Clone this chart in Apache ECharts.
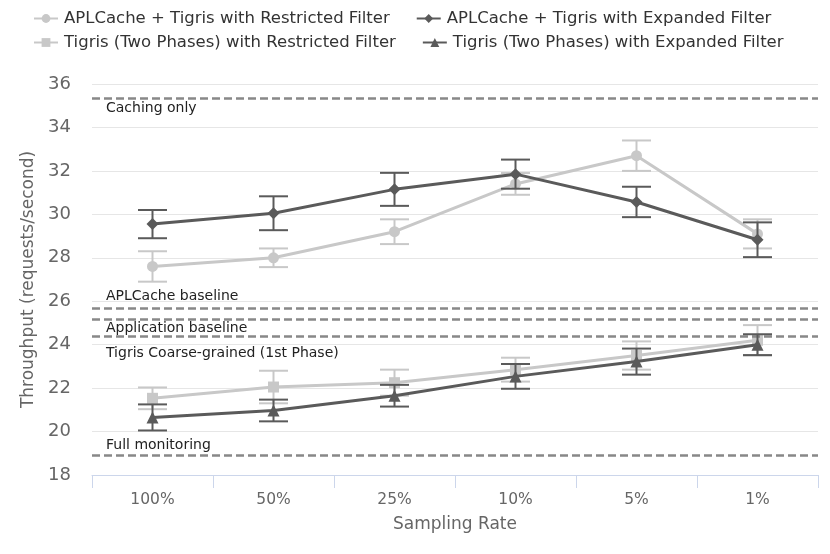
<!DOCTYPE html>
<html style="height: 100%">
    <head>
        <meta charset="utf-8">
    </head>
    <body style="height: 100%; margin: 0">
        <div id="container" style="height: 100%"></div>
        <script type="text/javascript" src="https://cdn.jsdelivr.net/npm/echarts@6/dist/echarts.min.js"></script>
        <script type="text/javascript">
var categories = ['100%', '50%', '25%', '10%', '5%', '1%'];

var seriesNames = [
    'APLCache + Tigris with Restricted Filter',
    'APLCache + Tigris with Expanded Filter',
    'Tigris (Two Phases) with Restricted Filter',
    'Tigris (Two Phases) with Expanded Filter'
];

// mean throughput and error (+/-) per sampling rate
var aplRestricted = [27.6, 28.0, 29.2, 31.4, 32.7, 29.1];
var aplRestrictedErr = [0.7, 0.43, 0.57, 0.5, 0.7, 0.67];
var aplExpanded = [29.55, 30.05, 31.15, 31.85, 30.57, 28.83];
var aplExpandedErr = [0.65, 0.78, 0.76, 0.67, 0.7, 0.8];
var tigRestricted = [21.53, 22.05, 22.25, 22.85, 23.5, 24.2];
var tigRestrictedErr = [0.5, 0.75, 0.6, 0.55, 0.65, 0.7];
var tigExpanded = [20.65, 20.97, 21.65, 22.54, 23.22, 24.0];
var tigExpandedErr = [0.6, 0.5, 0.5, 0.57, 0.6, 0.48];

var baselineNames = ['Caching only', 'APLCache baseline', 'Application baseline', 'Tigris Coarse-grained (1st Phase)', 'Full monitoring'];
var baselineValues = [35.35, 25.68, 25.18, 24.37, 18.89];
var baselineLabelPos = ['insideStartBottom', 'insideStartTop', 'insideStartBottom', 'insideStartBottom', 'insideStartTop'];
var baselineLabelGap = [3, 5, 2, 10, 3];

var light = '#c8c8c8';
var dark = '#5a5a5a';

var dom = document.getElementById("container");
var myChart = echarts.init(dom);
var option;

function errorBars(name, mean, err, color, z) {
    return {
        name: name + ' error',
        type: 'custom',
        z: z,
        silent: true,
        data: mean.map(function (m, i) { return [i, m - err[i], m + err[i]]; }),
        renderItem: function (params, api) {
            var lo = api.coord([api.value(0), api.value(1)]);
            var hi = api.coord([api.value(0), api.value(2)]);
            var half = 14.5;
            var style = { stroke: color, lineWidth: 2 };
            return {
                type: 'group',
                children: [
                    { type: 'line', shape: { x1: hi[0], y1: hi[1], x2: lo[0], y2: lo[1] }, style: style },
                    { type: 'line', shape: { x1: hi[0] - half, y1: hi[1], x2: hi[0] + half, y2: hi[1] }, style: style },
                    { type: 'line', shape: { x1: lo[0] - half, y1: lo[1], x2: lo[0] + half, y2: lo[1] }, style: style }
                ]
            };
        }
    };
}

function lineSeries(name, data, color, symbol, size, z) {
    return {
        name: name,
        type: 'line',
        data: data,
        z: z,
        symbol: symbol,
        symbolSize: size,
        itemStyle: { color: color },
        lineStyle: { color: color, width: 3 }
    };
}

var markLineSeries = lineSeries(seriesNames[0], aplRestricted, light, 'circle', 11, 4);
markLineSeries.markLine = {
    silent: true,
    symbol: 'none',
    lineStyle: { color: '#888', type: [8, 4], width: 2.5 },
    data: baselineValues.map(function (v, i) {
        return {
            yAxis: v,
            label: {
                show: true,
                formatter: baselineNames[i],
                position: baselineLabelPos[i],
                color: '#222',
                fontSize: 14,
                fontFamily: 'DejaVu Sans',
                distance: [14, baselineLabelGap[i]]
            }
        };
    })
};

var legendText = { fontFamily: 'DejaVu Sans', fontSize: 16.5, color: '#333', padding: [0, 0, 0, 1] };

option = {
    animation: false,
    textStyle: { fontFamily: 'DejaVu Sans' },
    legend: [
        {
            data: [seriesNames[0], seriesNames[1]],
            left: 28, top: 5, itemGap: 26, itemWidth: 24, itemHeight: 11,
            textStyle: legendText
        },
        {
            data: [seriesNames[2], seriesNames[3]],
            left: 28, top: 29, itemGap: 26, itemWidth: 24, itemHeight: 11,
            textStyle: legendText
        }
    ],
    grid: { left: 92, right: 12, top: 84, bottom: 79 },
    xAxis: {
        type: 'category',
        data: categories,
        name: 'Sampling Rate',
        nameLocation: 'middle',
        nameGap: 41,
        nameTextStyle: { fontSize: 17, color: '#666' },
        axisLine: { lineStyle: { color: '#ccd6eb', width: 1 } },
        axisTick: { show: true, length: 13, lineStyle: { color: '#ccd6eb' } },
        axisLabel: { fontSize: 15.5, color: '#666', margin: 17 }
    },
    yAxis: {
        type: 'value',
        min: 18,
        max: 36,
        interval: 2,
        name: 'Throughput (requests/second)',
        nameLocation: 'middle',
        nameGap: 43,
        nameTextStyle: { fontSize: 17, color: '#666' },
        axisLine: { show: false },
        axisTick: { show: false },
        axisLabel: { fontSize: 18, color: '#666', margin: 21 },
        splitLine: { lineStyle: { color: '#e6e6e6', width: 1 } }
    },
    series: [
        errorBars(seriesNames[0], aplRestricted, aplRestrictedErr, light, 2),
        errorBars(seriesNames[2], tigRestricted, tigRestrictedErr, light, 2),
        markLineSeries,
        lineSeries(seriesNames[2], tigRestricted, light, 'rect', 11, 4),
        errorBars(seriesNames[1], aplExpanded, aplExpandedErr, dark, 5),
        errorBars(seriesNames[3], tigExpanded, tigExpandedErr, dark, 5),
        lineSeries(seriesNames[1], aplExpanded, dark, 'diamond', 12, 6),
        lineSeries(seriesNames[3], tigExpanded, dark, 'triangle', 12, 6)
    ]
};

if (option && typeof option === 'object') {
    myChart.setOption(option);
}
        </script>
    </body>
</html>
